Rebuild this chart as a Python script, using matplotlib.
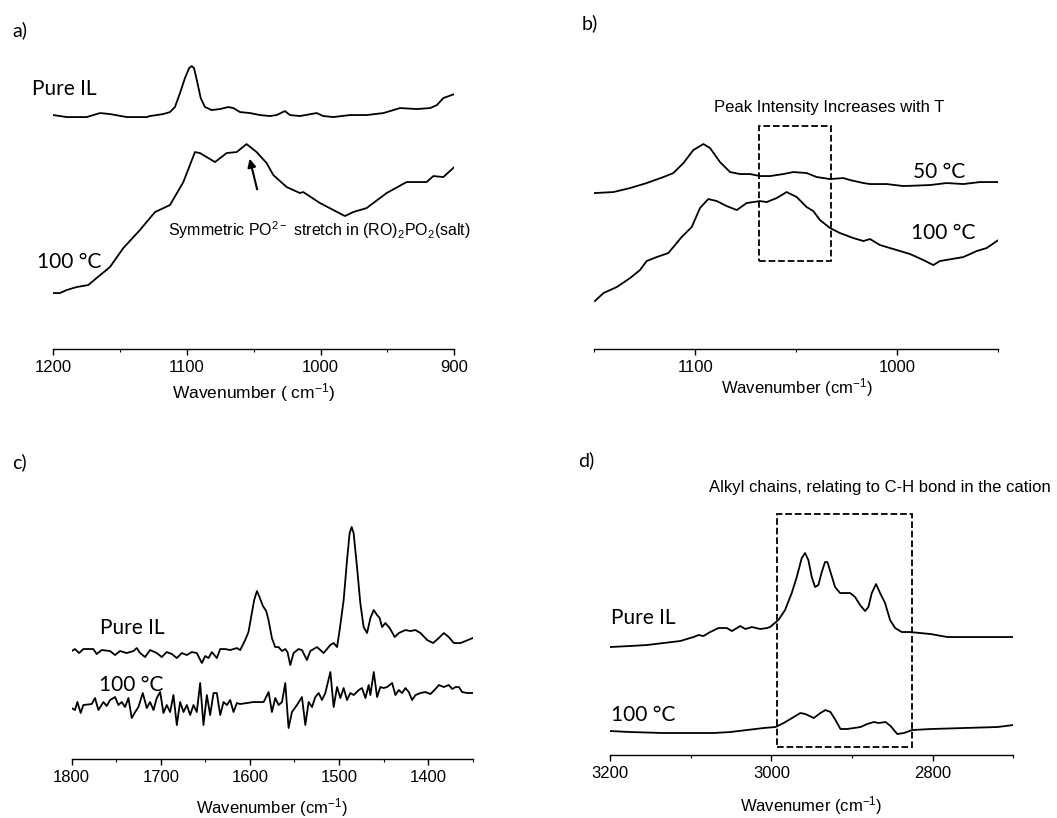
import matplotlib
matplotlib.use("Agg")
import matplotlib.pyplot as plt
from matplotlib.ticker import MultipleLocator
from matplotlib.patches import Rectangle

plt.rcParams['font.family'] = ['Liberation Sans', 'DejaVu Sans']
plt.rcParams['mathtext.default'] = 'regular'

LABEL_FONT = ['Lato', 'DejaVu Sans']

# ---- panel a: 1200-900 cm-1 ----
a_pure_wn = [1200, 1190, 1175, 1165, 1157.6, 1145, 1130, 1127.7, 1117.7, 1112.7, 1109.0,
             1105.2, 1101.5, 1098.3, 1096.5, 1094.7, 1092.3, 1089.7, 1086.5, 1081.5, 1075.3,
             1069.1, 1065.3, 1060.3, 1052.8, 1045.4, 1037.9, 1032.9, 1026.7,
             1022.9, 1015.5, 1003, 998, 990.5, 978, 965.6, 953, 940.6, 928, 918, 913, 908.2, 900]
a_pure_int = [2.34, 2.32, 2.32, 2.36, 2.35, 2.32, 2.32, 2.33, 2.35, 2.37, 2.42,
              2.56, 2.71, 2.81, 2.83, 2.81, 2.67, 2.51, 2.42, 2.39, 2.40,
              2.42, 2.41, 2.37, 2.36, 2.34, 2.33, 2.34, 2.38,
              2.34, 2.33, 2.36, 2.33, 2.32, 2.34, 2.34, 2.36, 2.41, 2.40, 2.41, 2.44, 2.51, 2.55]

a_hot_wn = [1200, 1195, 1190, 1182.5, 1173.8, 1167.6, 1157.6, 1147.6, 1135.2, 1123.9, 1112.7,
            1102.7, 1094, 1090.3, 1079, 1070.3, 1062.8, 1055.4, 1047.9, 1040.4, 1035.4, 1025.4,
            1015.5, 1013, 1000.5, 981.8, 975.6, 965.6, 950.6, 935.7, 920.7, 915.7, 908.2, 900]
a_hot_int = [0.56, 0.56, 0.59, 0.62, 0.64, 0.71, 0.82, 1.01, 1.19, 1.37, 1.44,
             1.67, 1.97, 1.96, 1.87, 1.96, 1.97, 2.05, 1.97, 1.86, 1.74, 1.62,
             1.56, 1.57, 1.46, 1.33, 1.37, 1.41, 1.56, 1.67, 1.67, 1.73, 1.72, 1.82]

# ---- panel b: 1150-950 cm-1 ----
b_50_wn = [1149.7, 1140.6, 1132.3, 1124.1, 1115.8, 1110.9, 1105.9, 1101, 1096, 1092.7, 1087.8,
           1082.8, 1077.9, 1072.9, 1068, 1063, 1056.4, 1051.5, 1044.9, 1039.9, 1033.3, 1026.7,
           1023.4, 1016.8, 1013.5, 1005.3, 997, 983.8, 975.6, 967.3, 959.1, 950]
b_50_int = [1.56, 1.57, 1.61, 1.66, 1.72, 1.76, 1.86, 1.99, 2.05, 2.01, 1.87,
            1.77, 1.75, 1.75, 1.73, 1.73, 1.75, 1.77, 1.76, 1.72, 1.70, 1.71,
            1.69, 1.66, 1.65, 1.65, 1.63, 1.64, 1.66, 1.65, 1.67, 1.67]

b_100_wn = [1149.7, 1145.5, 1138.9, 1132.3, 1127.4, 1124.1, 1119.1, 1113.4, 1110.9, 1106.8,
            1101.8, 1097.7, 1093.6, 1089.4, 1084.5, 1079.5, 1074.6, 1068, 1064.7, 1059.7,
            1054.8, 1049.8, 1044.9, 1041.6, 1038.3, 1033.3, 1028.4, 1021.8, 1016.8, 1013.5,
            1008.6, 1000.3, 993.7, 987.1, 982.2, 978.9, 967.3, 960.7, 955.8, 950]
b_100_int = [0.48, 0.56, 0.62, 0.71, 0.79, 0.88, 0.92, 0.96, 1.02, 1.12,
             1.22, 1.41, 1.50, 1.48, 1.43, 1.39, 1.46, 1.48, 1.47, 1.51,
             1.57, 1.52, 1.42, 1.38, 1.29, 1.21, 1.16, 1.11, 1.08, 1.10,
             1.04, 0.99, 0.95, 0.89, 0.84, 0.88, 0.92, 0.98, 1.01, 1.09]

# ---- panel c: 1800-1350 cm-1 ----
c_pure_wn = [1800, 1796.3, 1791.8, 1786.9, 1775.7, 1771.9, 1766.3, 1756.9, 1751.3, 1745.7,
             1738.2, 1730.7, 1727, 1723.2, 1717.6, 1712, 1704.5, 1698.9, 1693.3, 1687.6,
             1682, 1676.4, 1670.8, 1665.2, 1659.6, 1653.9, 1650.2, 1646.4, 1642.7, 1637.1,
             1633.3, 1627.7, 1622.1, 1614.6, 1610.9, 1605.3, 1601.6, 1597.8, 1595.2, 1592.1,
             1589.2, 1585.4, 1581.7, 1579.1, 1575.3, 1571.6, 1567.9, 1564.0, 1560.3, 1557.8,
             1554.7, 1551.0, 1545.4, 1541.6, 1536.0, 1532.2, 1528.5, 1524.7, 1517.3, 1509.8,
             1506.1, 1502.2, 1499.3, 1494.8, 1491.0, 1488.1, 1485.8, 1483.6, 1479.8, 1476.1,
             1472.4, 1468.5, 1464.8, 1461.1, 1457.3, 1454.4, 1451.7, 1448.0, 1443.1,
             1437.5, 1432.9, 1425.5, 1419.9, 1414.2,
             1408.6, 1401.1, 1394.4, 1388, 1382.4, 1376.8, 1371.2, 1363.7, 1358.1, 1350]
c_pure_int = [1.08, 1.10, 1.06, 1.10, 1.10, 1.05, 1.09, 1.08, 1.04, 1.08,
              1.06, 1.08, 1.11, 1.06, 1.02, 1.09, 1.06, 1.02, 1.07, 1.05,
              1.01, 1.06, 1.04, 1.07, 1.06, 0.96, 1.03, 1.01, 1.07, 1.01,
              1.10, 1.10, 1.09, 1.11, 1.09, 1.19, 1.27, 1.46, 1.59, 1.68,
              1.62, 1.53, 1.48, 1.39, 1.21, 1.12, 1.12, 1.08, 1.10, 1.07,
              0.94, 1.06, 1.10, 1.09, 0.99, 1.08, 1.10, 1.12, 1.06, 1.14,
              1.16, 1.12, 1.29, 1.59, 1.99, 2.26, 2.32, 2.26, 1.92, 1.56,
              1.32, 1.26, 1.41, 1.49, 1.44, 1.41, 1.32, 1.36, 1.31,
              1.22, 1.26, 1.29, 1.28, 1.29,
              1.26, 1.19, 1.16, 1.21, 1.26, 1.22, 1.16, 1.16, 1.18, 1.21]

c_hot_wn = [1800, 1796.3, 1793.6, 1789.9, 1786.9, 1777.5, 1773.8, 1770, 1764.4, 1760.7,
            1756.9, 1751.3, 1747.6, 1743.8, 1740.1, 1736.3, 1732.6, 1728.8, 1725.1, 1720.2,
            1715.7, 1712, 1708.2, 1704.5, 1700.7, 1697, 1693.3, 1689.5, 1685.8, 1682,
            1678.3, 1674.5, 1670.8, 1667, 1663.3, 1659.6, 1655.8, 1652.1, 1648.3, 1644.6,
            1640.8, 1637.1, 1633.3, 1629.6, 1625.8, 1622.1, 1618.4, 1614.6, 1610.9, 1595.9,
            1584.6, 1579, 1575.3, 1571.5, 1567.8, 1564, 1560.3, 1556.6, 1552.8, 1547.2,
            1541.6, 1537.8, 1534.1, 1530.3, 1526.6, 1522.8, 1519.1, 1515.4, 1509.7, 1506,
            1502.2, 1498.5, 1494.8, 1491, 1487.3, 1483.5, 1477.9, 1474.2, 1470.4, 1466.7,
            1464.8, 1461, 1457.3, 1453.6, 1449.8, 1446.1, 1440.4, 1436.7, 1433, 1429.2,
            1425.5, 1421.7, 1418, 1414.2, 1408.6, 1403, 1397.4, 1391.8, 1388, 1382.4,
            1376.8, 1373, 1369.3, 1365.5, 1361.8, 1356.2, 1350]
c_hot_int = [0.51, 0.49, 0.57, 0.46, 0.54, 0.55, 0.61, 0.49, 0.57, 0.53,
             0.59, 0.62, 0.54, 0.57, 0.52, 0.61, 0.41, 0.47, 0.52, 0.66,
             0.51, 0.57, 0.49, 0.61, 0.67, 0.46, 0.54, 0.47, 0.64, 0.34,
             0.57, 0.47, 0.54, 0.44, 0.54, 0.47, 0.76, 0.34, 0.64, 0.44,
             0.66, 0.66, 0.44, 0.57, 0.54, 0.59, 0.47, 0.56, 0.55, 0.57,
             0.57, 0.67, 0.47, 0.61, 0.54, 0.57, 0.76, 0.31, 0.47, 0.54,
             0.62, 0.34, 0.57, 0.52, 0.62, 0.66, 0.59, 0.66, 0.87, 0.52,
             0.72, 0.61, 0.71, 0.59, 0.66, 0.64, 0.69, 0.71, 0.61, 0.74,
             0.64, 0.87, 0.62, 0.72, 0.71, 0.72, 0.76, 0.64, 0.69, 0.66,
             0.71, 0.67, 0.59, 0.64, 0.66, 0.67, 0.65, 0.70, 0.74, 0.72,
             0.74, 0.70, 0.72, 0.72, 0.67, 0.66, 0.66]

# ---- panel d: 3200-2700 cm-1 ----
d_pure_wn = [3200, 3175.2, 3154.5, 3133.7, 3113, 3096.5, 3090.3, 3084.1, 3075.8, 3065.4,
             3055.1, 3048.9, 3044.7, 3038.5, 3032.3, 3024, 3013.7, 3005.4, 3001.6, 2991.3,
             2983.0, 2974.7, 2968.5, 2962.3, 2958.2, 2954.1, 2949.9, 2945.8, 2941.7, 2937.5,
             2933.4, 2930.5, 2926.3, 2921.0, 2914.8, 2908.6, 2902.4, 2896.2, 2890.0, 2883.8,
             2879.7, 2875.5, 2870.2, 2865.2, 2859.0, 2852.8, 2846.6, 2838.3, 2828.0, 2815.6,
             2802.5, 2781.8, 2761.1, 2740.4, 2719.7, 2700]
d_pure_int = [1.08, 1.09, 1.10, 1.12, 1.14, 1.18, 1.20, 1.19, 1.23, 1.27,
              1.27, 1.24, 1.26, 1.29, 1.26, 1.28, 1.26, 1.27, 1.28, 1.35,
              1.45, 1.62, 1.78, 1.97, 2.02, 1.95, 1.78, 1.68, 1.70, 1.83,
              1.93, 1.93, 1.82, 1.68, 1.62, 1.62, 1.62, 1.58, 1.50, 1.44,
              1.48, 1.62, 1.71, 1.62, 1.52, 1.35, 1.27, 1.23, 1.23, 1.22,
              1.21, 1.18, 1.18, 1.18, 1.18, 1.18]

d_hot_wn = [3200, 3175.2, 3133.7, 3092.3, 3071.6, 3050.9, 3030.2, 3009.5, 2995, 2984.7,
            2974.3, 2964, 2957.8, 2947.4, 2939.1, 2932.9, 2926.7, 2920.5, 2914.3, 2906,
            2889.4, 2881.2, 2872.9, 2866.7, 2858.4, 2852.2, 2843.9, 2835.6, 2825.3, 2802.5,
            2761.1, 2719.7, 2700]
d_hot_int = [0.24, 0.23, 0.22, 0.22, 0.22, 0.23, 0.25, 0.27, 0.28, 0.32,
             0.37, 0.42, 0.41, 0.37, 0.42, 0.45, 0.43, 0.35, 0.26, 0.26,
             0.28, 0.31, 0.33, 0.32, 0.33, 0.29, 0.21, 0.22, 0.25, 0.26,
             0.27, 0.28, 0.30]

LW = 1.3


def style_axis(ax, xlim, major, minor, ylim):
    ax.set_xlim(*xlim)
    ax.set_ylim(*ylim)
    for s in ['top', 'right', 'left']:
        ax.spines[s].set_visible(False)
    ax.spines['bottom'].set_linewidth(1.0)
    ax.set_yticks([])
    ax.xaxis.set_major_locator(MultipleLocator(major))
    ax.xaxis.set_minor_locator(MultipleLocator(minor))
    ax.tick_params(axis='x', which='major', direction='out', length=4.5, width=1.0,
                   labelsize=12, pad=3.5)
    ax.tick_params(axis='x', which='minor', direction='out', length=2.5, width=0.8)
    ax.patch.set_alpha(0)


fig = plt.figure(figsize=(10.57, 8.18), dpi=100)

# panel a
ax_a = fig.add_axes([0.0504, 0.5733, 0.3794, 0.3655])
ax_a.plot(a_pure_wn, a_pure_int, color='black', lw=LW)
ax_a.plot(a_hot_wn, a_hot_int, color='black', lw=LW)
style_axis(ax_a, (1200, 900), 100, 50, (0, 2.99))
ax_a.set_xlabel('Wavenumber ( cm$^{-1}$)', fontsize=12.5, labelpad=4)
ax_a.text(1191.6, 2.60, 'Pure IL', family=LABEL_FONT, fontsize=15, ha='center', va='center')
ax_a.text(1188.3, 0.87, '100 °C', family=LABEL_FONT, fontsize=15, ha='center', va='center')
ax_a.text(1000.8, 1.19, 'Symmetric PO$^{2-}$ stretch in (RO)$_2$PO$_2$(salt)',
          fontsize=11.5, ha='center', va='center')
ax_a.annotate('', xy=(1053.6, 1.93), xytext=(1047, 1.57),
              arrowprops=dict(arrowstyle='-|>', color='black', lw=1.5, mutation_scale=12))

# panel b
ax_b = fig.add_axes([0.5623, 0.5733, 0.3822, 0.3655])
ax_b.plot(b_50_wn, b_50_int, color='black', lw=LW)
ax_b.plot(b_100_wn, b_100_int, color='black', lw=LW)
style_axis(ax_b, (1150, 950), 100, 50, (0, 2.99))
ax_b.set_xlabel('Wavenumber (cm$^{-1}$)', fontsize=12, labelpad=1)
ax_b.add_patch(Rectangle((1068.5, 0.88), 1032.8 - 1068.5, 2.23 - 0.88, fill=False,
                         ls='--', lw=1.3, ec='black'))
ax_b.text(1033.8, 2.42, 'Peak Intensity Increases with T', fontsize=12, ha='center', va='center')
ax_b.text(979.4, 1.77, '50 °C', family=LABEL_FONT, fontsize=15, ha='center', va='center')
ax_b.text(977.2, 1.16, '100 °C', family=LABEL_FONT, fontsize=15, ha='center', va='center')

# panel c
ax_c = fig.add_axes([0.0678, 0.0721, 0.3794, 0.3667])
ax_c.plot(c_pure_wn, c_pure_int, color='black', lw=LW)
ax_c.plot(c_hot_wn, c_hot_int, color='black', lw=LW)
style_axis(ax_c, (1800, 1350), 100, 50, (0, 3.0))
ax_c.set_xlabel('Wavenumber (cm$^{-1}$)', fontsize=12, labelpad=8)
ax_c.text(1732, 1.31, 'Pure IL', family=LABEL_FONT, fontsize=15, ha='center', va='center')
ax_c.text(1733.7, 0.74, '100 °C', family=LABEL_FONT, fontsize=15, ha='center', va='center')

# panel d
ax_d = fig.add_axes([0.5771, 0.0770, 0.3816, 0.3667])
ax_d.plot(d_pure_wn, d_pure_int, color='black', lw=LW)
ax_d.plot(d_hot_wn, d_hot_int, color='black', lw=LW)
style_axis(ax_d, (3200, 2700), 200, 100, (0, 3.0))
ax_d.set_xlabel('Wavenumer (cm$^{-1}$)', fontsize=12, labelpad=9)
ax_d.add_patch(Rectangle((2993.0, 0.08), 2826.1 - 2993.0, 2.41 - 0.08, fill=False,
                         ls='--', lw=1.3, ec='black'))
ax_d.text(2865.5, 2.68, 'Alkyl chains, relating to C-H bond in the cation', fontsize=12,
          ha='center', va='center', clip_on=False)
ax_d.text(3158.2, 1.37, 'Pure IL', family=LABEL_FONT, fontsize=15, ha='center', va='center')
ax_d.text(3159.4, 0.40, '100 °C', family=LABEL_FONT, fontsize=15, ha='center', va='center')

# panel letters
for x, y, s in [(0.0114, 0.963, 'a)'), (0.5506, 0.972, 'b)'),
                (0.0114, 0.435, 'c)'), (0.547, 0.4377, 'd)')]:
    fig.text(x, y, s, family=LABEL_FONT, fontsize=14, ha='left', va='center')

fig.savefig('out.png', dpi=100)
